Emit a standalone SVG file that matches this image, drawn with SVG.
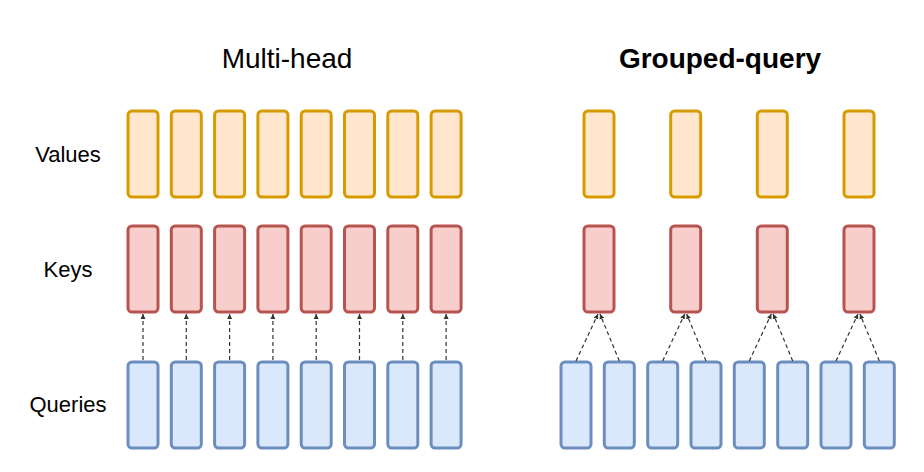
<svg xmlns="http://www.w3.org/2000/svg" width="924" height="472" viewBox="0 0 924 472">
<style>
.v{fill:#ffe6cc;stroke:#d79b00;stroke-width:3}
.k{fill:#f8cecc;stroke:#b85450;stroke-width:3}
.q{fill:#dae8fc;stroke:#6c8ebf;stroke-width:3}
.c line{stroke:#333;stroke-width:1.2;stroke-dasharray:4 3;marker-end:url(#a)}
text{font-family:"Liberation Sans",Arial,sans-serif;fill:#000}
</style>
<defs><marker id="a" markerWidth="6" markerHeight="6" refX="5" refY="3" orient="auto" markerUnits="userSpaceOnUse"><path d="M0,0.5 L5,3 L0,5.5z" fill="#333"/></marker></defs>
<rect width="924" height="472" fill="#fff"/>
<text x="287" y="68" font-size="28" text-anchor="middle">Multi-head</text>
<text x="720" y="68" font-size="28" font-weight="bold" text-anchor="middle">Grouped-query</text>
<g id="labels"><text x="68" y="162" font-size="22" text-anchor="middle">Values</text><text x="68" y="277" font-size="22" text-anchor="middle">Keys</text><text x="68" y="412" font-size="22" text-anchor="middle">Queries</text></g>
<g id="mh-values"><rect class="v" x="128" y="111" width="30" height="86" rx="4"/><rect class="v" x="171.3" y="111" width="30" height="86" rx="4"/><rect class="v" x="214.6" y="111" width="30" height="86" rx="4"/><rect class="v" x="257.9" y="111" width="30" height="86" rx="4"/><rect class="v" x="301.2" y="111" width="30" height="86" rx="4"/><rect class="v" x="344.5" y="111" width="30" height="86" rx="4"/><rect class="v" x="387.8" y="111" width="30" height="86" rx="4"/><rect class="v" x="431.1" y="111" width="30" height="86" rx="4"/></g>
<g id="mh-keys"><rect class="k" x="128" y="226" width="30" height="86" rx="4"/><rect class="k" x="171.3" y="226" width="30" height="86" rx="4"/><rect class="k" x="214.6" y="226" width="30" height="86" rx="4"/><rect class="k" x="257.9" y="226" width="30" height="86" rx="4"/><rect class="k" x="301.2" y="226" width="30" height="86" rx="4"/><rect class="k" x="344.5" y="226" width="30" height="86" rx="4"/><rect class="k" x="387.8" y="226" width="30" height="86" rx="4"/><rect class="k" x="431.1" y="226" width="30" height="86" rx="4"/></g>
<g id="mh-queries"><rect class="q" x="128" y="362" width="30" height="86" rx="4"/><rect class="q" x="171.3" y="362" width="30" height="86" rx="4"/><rect class="q" x="214.6" y="362" width="30" height="86" rx="4"/><rect class="q" x="257.9" y="362" width="30" height="86" rx="4"/><rect class="q" x="301.2" y="362" width="30" height="86" rx="4"/><rect class="q" x="344.5" y="362" width="30" height="86" rx="4"/><rect class="q" x="387.8" y="362" width="30" height="86" rx="4"/><rect class="q" x="431.1" y="362" width="30" height="86" rx="4"/></g>
<g id="gq-values"><rect class="v" x="584" y="111" width="30" height="86" rx="4"/><rect class="v" x="670.7" y="111" width="30" height="86" rx="4"/><rect class="v" x="757.3" y="111" width="30" height="86" rx="4"/><rect class="v" x="844" y="111" width="30" height="86" rx="4"/></g>
<g id="gq-keys"><rect class="k" x="584" y="226" width="30" height="86" rx="4"/><rect class="k" x="670.7" y="226" width="30" height="86" rx="4"/><rect class="k" x="757.3" y="226" width="30" height="86" rx="4"/><rect class="k" x="844" y="226" width="30" height="86" rx="4"/></g>
<g id="gq-queries"><rect class="q" x="561" y="362" width="30" height="86" rx="4"/><rect class="q" x="604.3" y="362" width="30" height="86" rx="4"/><rect class="q" x="647.7" y="362" width="30" height="86" rx="4"/><rect class="q" x="691" y="362" width="30" height="86" rx="4"/><rect class="q" x="734.3" y="362" width="30" height="86" rx="4"/><rect class="q" x="777.7" y="362" width="30" height="86" rx="4"/><rect class="q" x="821" y="362" width="30" height="86" rx="4"/><rect class="q" x="864.3" y="362" width="30" height="86" rx="4"/></g>
<g id="connectors" class="c">
<line x1="143" y1="360" x2="143" y2="314"/><line x1="186.3" y1="360" x2="186.3" y2="314"/><line x1="229.6" y1="360" x2="229.6" y2="314"/><line x1="272.9" y1="360" x2="272.9" y2="314"/><line x1="316.2" y1="360" x2="316.2" y2="314"/><line x1="359.5" y1="360" x2="359.5" y2="314"/><line x1="402.8" y1="360" x2="402.8" y2="314"/><line x1="446.1" y1="360" x2="446.1" y2="314"/>
<line x1="576" y1="361" x2="598" y2="314"/><line x1="619.3" y1="361" x2="600" y2="314"/>
<line x1="662.7" y1="361" x2="684.7" y2="314"/><line x1="706" y1="361" x2="686.7" y2="314"/>
<line x1="749.3" y1="361" x2="771.3" y2="314"/><line x1="792.7" y1="361" x2="773.3" y2="314"/>
<line x1="836" y1="361" x2="858" y2="314"/><line x1="879.3" y1="361" x2="860" y2="314"/>
</g>
</svg>
